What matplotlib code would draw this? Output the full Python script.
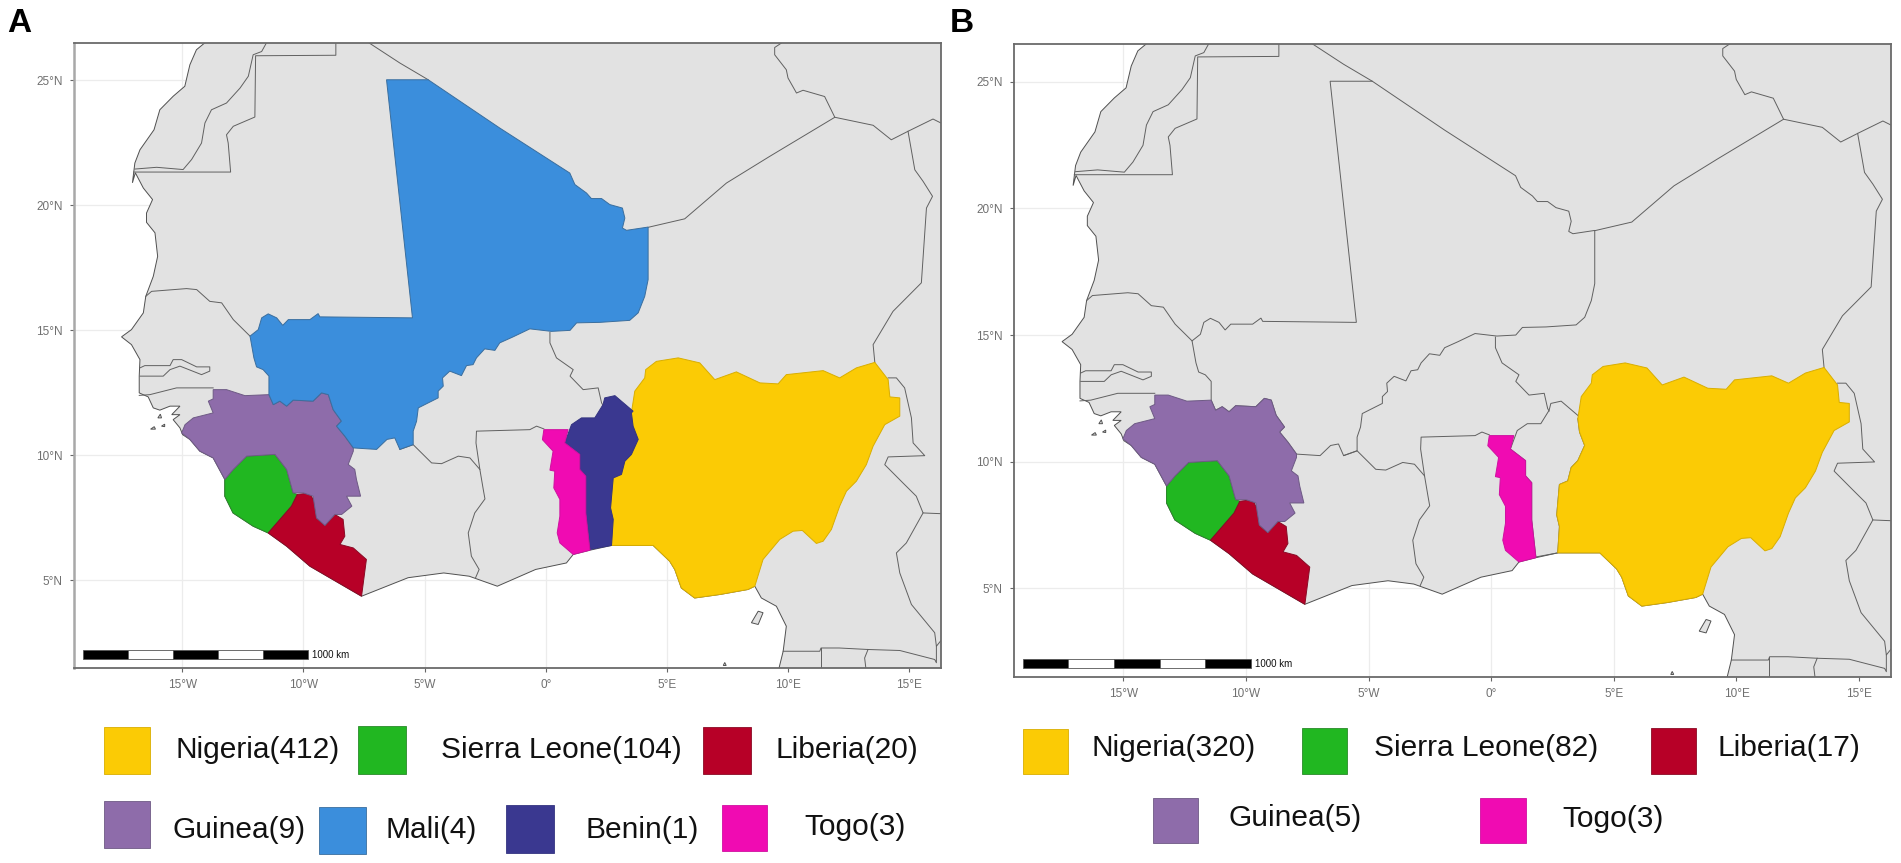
import matplotlib
matplotlib.use('Agg')
import matplotlib.pyplot as plt
from matplotlib.patches import Rectangle

plt.rcParams['font.family'] = ['Liberation Sans', 'DejaVu Sans']

W, H = 1901, 863

# outlines as (lon, lat)
coast = [(-14.06, 26.5), (-14.41, 26.22), (-14.68, 25.62), (-14.89, 24.76), (-15.37, 24.36), (-15.92, 23.82),
         (-16.16, 23.02), (-16.74, 22.22), (-16.95, 21.69), (-17.05, 20.9), (-16.93, 21.3), (-16.6, 20.69),
         (-16.22, 20.23), (-16.47, 19.69), (-16.47, 19.32), (-16.12, 18.9), (-16.01, 17.96), (-16.19, 17.16),
         (-16.5, 16.36), (-16.6, 15.7), (-17.09, 15.03), (-17.5, 14.74), (-17.09, 14.43), (-16.74, 13.83),
         (-16.77, 13.17), (-16.77, 12.5), (-16.4, 12.34), (-16.19, 11.9), (-15.92, 11.81), (-15.5, 11.97),
         (-15.09, 11.97), (-15.43, 11.63), (-15.09, 11.63), (-15.37, 11.43), (-15.09, 11.1), (-14.98, 10.83),
         (-14.68, 10.64), (-14.27, 10.17), (-13.72, 9.9), (-13.24, 9.04), (-13.24, 8.37), (-12.9, 7.7),
         (-12.07, 7.17), (-11.45, 6.9), (-10.69, 6.37), (-9.73, 5.57), (-7.6, 4.37), (-5.68, 5.11), (-4.21, 5.3),
         (-3.16, 5.17), (-2.0, 4.77), (-0.42, 5.44), (0.85, 5.7), (1.13, 6.04), (1.82, 6.21), (2.71, 6.4),
         (4.43, 6.4), (5.11, 5.77), (5.32, 5.44), (5.59, 4.7), (6.14, 4.3), (7.18, 4.44), (8.34, 4.64),
         (8.62, 4.77), (8.89, 4.3), (9.51, 3.97), (9.92, 3.17), (9.79, 2.17), (9.62, 1.5), (9.5, 1.0),
         (20, 1.0), (20, 30), (-13.5, 30)]

islands = [[(8.48, 3.31), (8.76, 3.77), (8.96, 3.71), (8.76, 3.24)],
           [(7.32, 1.6), (7.38, 1.72), (7.44, 1.6)],
           [(-16.3, 11.05), (-16.15, 11.15), (-16.1, 11.05)],
           [(-15.85, 11.17), (-15.72, 11.25), (-15.72, 11.15)],
           [(-16.0, 11.5), (-15.9, 11.65), (-15.85, 11.5)]]

borders = [
    [(-17.0, 21.33), (-13.0, 21.33), (-13.1, 22.49), (-13.17, 22.82), (-12.89, 23.16), (-12.0, 23.53),
     (-11.97, 25.98), (-8.66, 26.0), (-8.66, 26.5)],
    [(-16.95, 21.45), (-16.05, 21.52), (-14.96, 21.43), (-14.61, 21.83), (-14.2, 22.49), (-14.06, 23.29),
     (-13.79, 23.82), (-13.17, 24.09), (-12.61, 24.69), (-12.27, 25.16), (-12.07, 26.02), (-11.72, 26.15),
     (-11.52, 26.5)],
    [(-7.3, 26.5), (-6.02, 25.69), (-4.85, 25.02)],
    [(-16.5, 16.36), (-16.26, 16.56), (-14.82, 16.67), (-14.4, 16.63), (-13.86, 16.16), (-13.37, 16.1),
     (-12.89, 15.43), (-12.2, 14.77)],
    [(-16.74, 13.5), (-16.54, 13.59), (-15.5, 13.59), (-15.37, 13.83), (-15.02, 13.83), (-14.4, 13.54),
     (-13.86, 13.54), (-13.86, 13.37), (-14.2, 13.23), (-15.09, 13.57), (-15.5, 13.43), (-15.78, 13.17),
     (-16.74, 13.17)],
    [(-16.77, 12.4), (-16.33, 12.43), (-15.23, 12.7), (-13.72, 12.7)],
    [(-6.02, 10.24), (-5.47, 10.43), (-4.71, 9.7), (-4.3, 9.67), (-3.61, 9.97), (-3.13, 9.9), (-2.72, 9.44),
     (-2.58, 8.64), (-2.51, 8.26), (-2.93, 7.7), (-3.2, 6.9), (-3.07, 5.97), (-2.75, 5.44), (-2.9, 5.1)],
    [(-2.72, 9.44), (-2.88, 10.5), (-2.86, 10.97), (-0.66, 11.03), (-0.38, 11.17), (-0.08, 11.06)],
    [(0.17, 14.92), (0.17, 14.5), (0.44, 13.9), (1.13, 13.43), (1.0, 13.17), (1.54, 12.63), (2.16, 12.7),
     (2.3, 12.1), (2.36, 12.0)],
    [(4.22, 19.12), (5.73, 19.46), (7.45, 20.89), (9.24, 21.96), (11.92, 23.52), (11.5, 24.35), (10.61, 24.6),
     (10.34, 24.49), (9.99, 25.09), (9.92, 25.42), (9.44, 26.02), (9.44, 26.31), (9.72, 26.49)],
    [(11.92, 23.52), (13.5, 23.2), (14.25, 22.62), (14.94, 22.96), (15.97, 23.45), (16.3, 23.29)],
    [(14.94, 22.96), (15.22, 21.42), (15.56, 20.96), (15.95, 20.36), (15.7, 19.89), (15.49, 16.9), (14.32, 15.76),
     (13.5, 14.43), (13.57, 13.72)],
    [(14.12, 13.1), (14.46, 13.1), (14.8, 12.7), (15.08, 11.5), (15.15, 10.5), (15.63, 9.99), (14.12, 9.94),
     (13.98, 9.63), (14.73, 8.9), (15.28, 8.37), (15.56, 7.7), (16.3, 7.67)],
    [(15.56, 7.7), (14.87, 6.5), (14.46, 6.1), (14.6, 5.3), (15.08, 4.04), (16.04, 2.91), (16.11, 2.37), (16.3, 2.6)],
    [(9.79, 2.17), (11.3, 2.17), (11.35, 2.3), (12.1, 2.3), (13.29, 2.24), (14.6, 2.2), (16.04, 1.84), (16.11, 1.71),
     (16.11, 2.37)],
    [(11.33, 2.3), (11.33, 1.5)],
    [(13.29, 2.24), (13.15, 1.9), (13.2, 1.5)],
]

mali = [(-6.57, 25.02), (-4.85, 25.02), (-1.9, 23.09), (0.99, 21.29), (1.2, 20.83), (1.68, 20.49), (1.88, 20.27),
        (2.3, 20.27), (2.64, 20.03), (3.16, 19.89), (3.26, 19.49), (3.16, 19.09), (3.33, 19.0), (4.22, 19.13),
        (4.22, 17.83), (4.22, 17.03), (4.08, 16.36), (3.81, 15.7), (3.46, 15.4), (2.23, 15.32), (1.27, 15.3),
        (1.0, 15.0), (0.23, 14.96), (-0.66, 15.06), (-1.35, 14.74), (-1.9, 14.5), (-2.1, 14.2), (-2.52, 14.26),
        (-2.86, 13.9), (-3.0, 13.63), (-3.27, 13.59), (-3.48, 13.19), (-3.96, 13.37), (-4.26, 13.1), (-4.23, 12.77),
        (-4.44, 12.57), (-4.44, 12.3), (-5.26, 11.9), (-5.33, 11.37), (-5.47, 10.97), (-5.47, 10.43), (-6.02, 10.24),
        (-6.23, 10.7), (-6.55, 10.64), (-6.98, 10.24), (-7.94, 10.3), (-8.29, 10.77), (-8.63, 11.17), (-8.43, 11.37),
        (-8.77, 11.83), (-8.97, 12.43), (-9.25, 12.5), (-9.6, 12.17), (-10.42, 12.21), (-10.69, 11.97), (-10.97, 12.17),
        (-11.24, 12.03), (-11.42, 12.43), (-11.42, 13.17), (-11.66, 13.43), (-11.93, 13.54), (-12.04, 13.9),
        (-12.2, 14.77), (-11.86, 15.03), (-11.72, 15.5), (-11.45, 15.66), (-11.1, 15.5), (-10.85, 15.2),
        (-10.62, 15.43), (-9.73, 15.43), (-9.39, 15.67), (-9.32, 15.54), (-5.5, 15.5)]

nigeria = [(4.12, 13.43), (4.56, 13.76), (5.46, 13.9), (6.35, 13.7), (6.97, 13.03), (7.86, 13.34), (8.83, 12.9),
           (9.58, 12.86), (9.92, 13.23), (11.44, 13.39), (12.12, 13.1), (12.81, 13.5), (13.57, 13.72), (14.12, 13.03),
           (14.19, 12.34), (14.6, 12.3), (14.6, 11.57), (13.98, 11.23), (13.5, 10.37), (13.22, 9.63), (12.81, 8.97),
           (12.4, 8.57), (12.12, 7.97), (11.78, 7.04), (11.44, 6.57), (11.16, 6.48), (10.58, 7.0), (10.2, 6.97),
           (9.65, 6.64), (8.96, 5.84), (8.62, 4.77), (8.34, 4.64), (7.18, 4.44), (6.14, 4.3), (5.59, 4.7), (5.32, 5.44),
           (5.11, 5.77), (4.43, 6.4), (2.71, 6.4), (2.78, 7.44), (2.67, 7.9), (2.78, 9.1), (3.12, 9.24), (3.26, 9.77),
           (3.53, 10.04), (3.81, 10.64), (3.6, 11.17), (3.53, 11.7), (3.67, 12.57), (4.08, 13.1)]

benin = [(2.71, 6.4), (1.82, 6.24), (1.65, 7.7), (1.65, 9.17), (1.4, 9.44), (1.4, 10.04), (0.78, 10.5), (1.06, 11.23),
         (1.47, 11.5), (2.02, 11.5), (2.36, 12.03), (2.43, 12.3), (2.85, 12.39), (3.6, 11.77), (3.53, 11.7), (3.6, 11.17),
         (3.81, 10.64), (3.53, 10.04), (3.26, 9.77), (3.12, 9.24), (2.78, 9.1), (2.67, 7.9), (2.78, 7.44)]

togo = [(1.82, 6.21), (1.13, 6.04), (0.58, 6.5), (0.47, 6.9), (0.58, 7.57), (0.58, 8.24), (0.33, 8.7), (0.37, 9.37),
        (0.17, 9.41), (0.3, 10.17), (-0.14, 10.63), (-0.08, 11.03), (0.92, 11.03), (0.78, 10.5), (1.4, 10.04),
        (1.4, 9.44), (1.65, 9.17), (1.65, 7.7)]

guinea = [(-15.02, 10.9), (-14.88, 11.23), (-14.54, 11.5), (-13.72, 11.7), (-13.92, 12.17), (-13.72, 12.26),
          (-13.72, 12.63), (-13.17, 12.63), (-12.41, 12.39), (-11.42, 12.43), (-11.24, 12.03), (-10.97, 12.17),
          (-10.69, 11.97), (-10.42, 12.21), (-9.6, 12.17), (-9.25, 12.5), (-8.97, 12.43), (-8.77, 11.83), (-8.43, 11.37),
          (-8.63, 11.17), (-8.29, 10.77), (-7.94, 10.3), (-7.94, 10.17), (-8.15, 9.64), (-7.88, 9.44), (-7.81, 9.04),
          (-7.64, 8.37), (-8.22, 8.37), (-8.0, 7.97), (-8.42, 7.64), (-8.7, 7.64), (-9.11, 7.2), (-9.46, 7.5), (-9.6, 8.37),
          (-10.0, 8.5), (-10.42, 8.5), (-10.69, 9.44), (-11.17, 10.04), (-12.34, 9.97), (-12.89, 9.44), (-13.24, 9.04),
          (-13.72, 9.9), (-14.27, 10.17), (-14.68, 10.64)]

sierra_leone = [(-13.24, 9.04), (-12.89, 9.44), (-12.34, 9.97), (-11.17, 10.04), (-10.69, 9.44), (-10.42, 8.5), (-10.25, 8.44),
                (-10.49, 7.97), (-11.45, 6.9), (-12.07, 7.17), (-12.9, 7.7), (-13.24, 8.37)]

liberia = [(-11.45, 6.9), (-10.49, 7.97), (-10.25, 8.44), (-9.73, 8.5), (-9.53, 8.1), (-9.46, 7.5), (-9.11, 7.2),
           (-8.7, 7.64), (-8.36, 7.44), (-8.29, 6.77), (-8.49, 6.44), (-7.94, 6.3), (-7.4, 5.84), (-7.6, 4.37),
           (-9.73, 5.57), (-10.69, 6.37)]

shapes = {'Nigeria': nigeria, 'Sierra Leone': sierra_leone, 'Liberia': liberia, 'Guinea': guinea,
          'Mali': mali, 'Benin': benin, 'Togo': togo}

counts_a = {'Nigeria': 412, 'Sierra Leone': 104, 'Liberia': 20, 'Guinea': 9, 'Mali': 4, 'Benin': 1, 'Togo': 3}
counts_b = {'Nigeria': 320, 'Sierra Leone': 82, 'Liberia': 17, 'Guinea': 5, 'Togo': 3}

x_ticks = [-15, -10, -5, 0, 5, 10, 15]
x_labels = ['15°W', '10°W', '5°W', '0°', '5°E', '10°E', '15°E']
y_ticks = [5, 10, 15, 20, 25]
y_labels = ['5°N', '10°N', '15°N', '20°N', '25°N']

# scale bar: 1000 km in five alternating pieces
scale_edges = [-19.09, -17.24, -15.37, -13.51, -11.67, -9.8]

colors = {'Nigeria': '#FBCB05', 'Sierra Leone': '#21B721', 'Liberia': '#B70027', 'Guinea': '#8E6CAA',
          'Mali': '#3B8EDC', 'Benin': '#3A3890', 'Togo': '#F00BB2'}
edges = {'Nigeria': '#D9AE00', 'Sierra Leone': '#2A8A2A', 'Liberia': '#8A0A25', 'Guinea': '#6E5A85',
         'Mali': '#3A6E9E', 'Benin': '#333380', 'Togo': '#D010A0'}


def draw_map(ax, counts):
    ax.set_facecolor('white')
    ax.grid(True, color='#ececec', linewidth=0.9)
    ax.set_axisbelow(True)
    xs, ys = zip(*coast)
    ax.fill(xs, ys, facecolor='#E2E2E2', edgecolor='#505050', linewidth=0.7, zorder=2)
    for isl in islands:
        xs, ys = zip(*isl)
        ax.fill(xs, ys, facecolor='#E2E2E2', edgecolor='#505050', linewidth=0.7, zorder=2)
    for line in borders:
        xs, ys = zip(*line)
        ax.plot(xs, ys, color='#606060', linewidth=0.7, zorder=3)
    # Mali's and Benin's edges stay as plain borders where they are not filled
    for name, pts in shapes.items():
        xs, ys = zip(*pts)
        if name in counts:
            ax.fill(xs, ys, facecolor=colors[name], edgecolor=edges[name], linewidth=0.7, zorder=4)
        else:
            ax.fill(xs, ys, facecolor='none', edgecolor='#606060', linewidth=0.7, zorder=3)
    for i in range(5):
        ax.add_patch(Rectangle((scale_edges[i], 1.85), scale_edges[i + 1] - scale_edges[i], 0.37,
                               facecolor='black' if i % 2 == 0 else 'white', edgecolor='#555555',
                               linewidth=0.6, zorder=5))
    ax.text(-9.65, 2.0, '1000 km', fontsize=7, color='#111111', va='center', ha='left', zorder=5)
    ax.set_xlim(-19.46, 16.3)
    ax.set_ylim(1.5, 26.49)
    ax.set_xticks(x_ticks)
    ax.set_xticklabels(x_labels)
    ax.set_yticks(y_ticks)
    ax.set_yticklabels(y_labels)
    ax.tick_params(length=3, width=0.8, color='#666666', labelcolor='#707070', labelsize=8.5, pad=5)
    for s in ax.spines.values():
        s.set_color('#6a6a6a')
        s.set_linewidth(1.3)
        s.set_zorder(6)


fig = plt.figure(figsize=(W / 100, H / 100), dpi=100)
fig.set_facecolor('white')

ax_a = fig.add_axes([74 / W, (H - 668) / H, (941 - 74) / W, (668 - 43) / H])
draw_map(ax_a, counts_a)
ax_a.spines['left'].set_color('#a8a8a8')
ax_a.spines['left'].set_linewidth(1.8)

ax_b = fig.add_axes([1014 / W, (H - 677) / H, (1891 - 1014) / W, (677 - 44) / H])
draw_map(ax_b, counts_b)

# overlay in pixel units for the legends and panel letters
ov = fig.add_axes([0, 0, 1, 1])
ov.set_xlim(0, W)
ov.set_ylim(H, 0)
ov.axis('off')
ov.patch.set_alpha(0)

ov.text(7, 32, 'A', fontsize=24, fontweight='bold', va='baseline', ha='left')
ov.text(950, 32, 'B', fontsize=24, fontweight='bold', va='baseline', ha='left')

# name, swatch left, right, top, bottom, text left, text centre y
legend_a = [('Nigeria', 104, 150, 727, 774, 176, 750),
            ('Sierra Leone', 358, 406, 726, 774, 441, 750),
            ('Liberia', 703, 751, 727, 774, 775, 750),
            ('Guinea', 104, 150, 801, 848, 172, 830),
            ('Mali', 319, 366, 807, 854, 386, 830),
            ('Benin', 506, 554, 805, 853, 585, 830),
            ('Togo', 722, 767, 805, 851, 804, 827)]
legend_b = [('Nigeria', 1023, 1068, 729, 774, 1091, 748),
            ('Sierra Leone', 1302, 1347, 728, 774, 1374, 748),
            ('Liberia', 1651, 1696, 728, 774, 1718, 748),
            ('Guinea', 1153, 1198, 798, 843, 1228, 818),
            ('Togo', 1480, 1526, 798, 843, 1562, 819)]

for items, counts in ((legend_a, counts_a), (legend_b, counts_b)):
    for name, x0, x1, y0, y1, tx, ty in items:
        ov.add_patch(Rectangle((x0, y0), x1 - x0, y1 - y0, facecolor=colors[name], edgecolor=edges[name], linewidth=0.6))
        ov.text(tx, ty, '%s(%d)' % (name, counts[name]), fontsize=21.5, color='#111111', va='center', ha='left')

fig.savefig('out.png', dpi=100)
